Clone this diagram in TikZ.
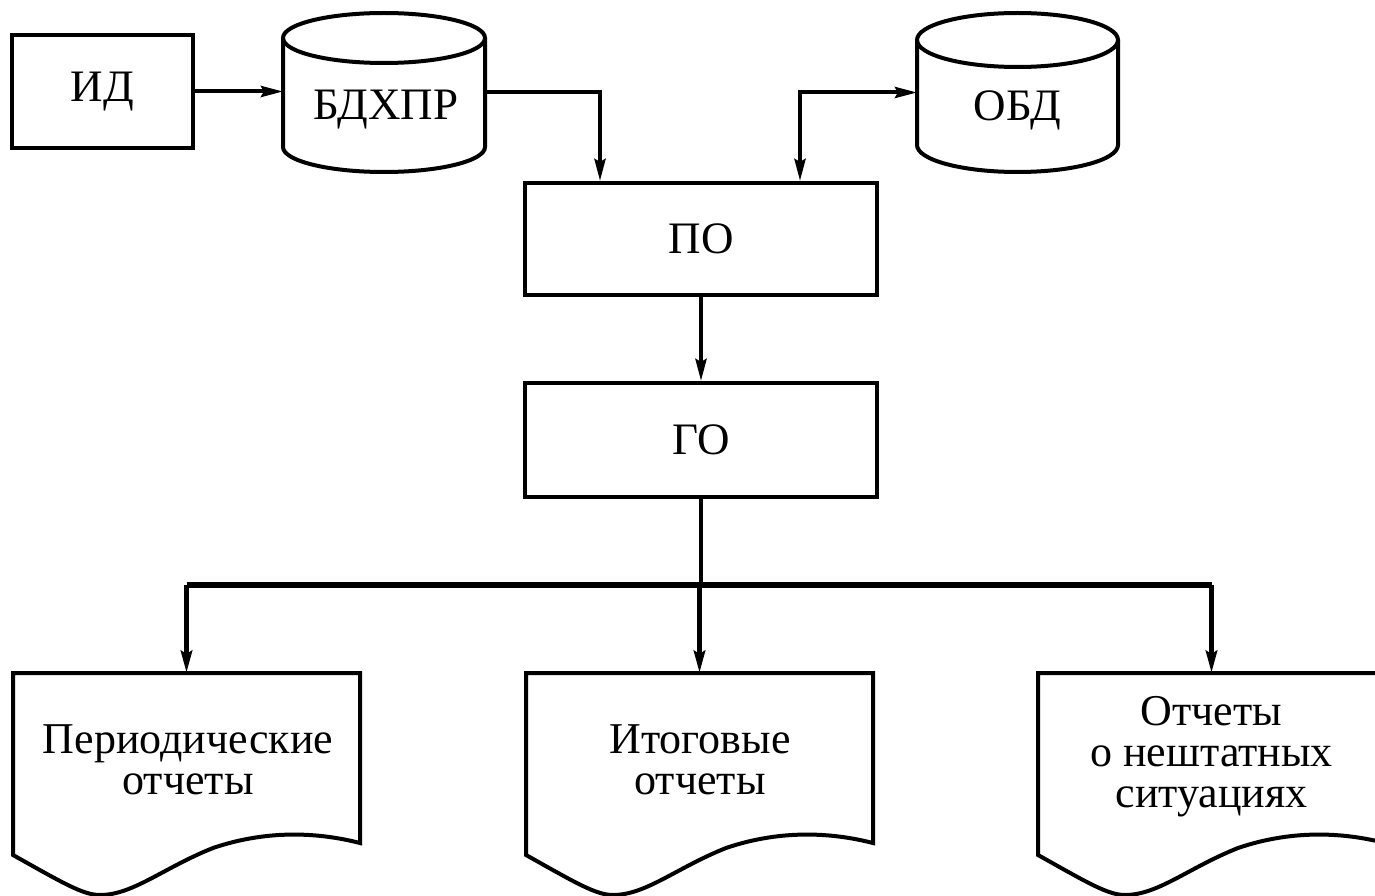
\documentclass[tikz,border=0pt]{standalone}
\usepackage{fontspec}
\setmainfont{Liberation Serif}
\usetikzlibrary{arrows.meta}
\begin{document}
\begin{tikzpicture}[x=1pt,y=-1pt,
  lbl/.style={font=\fontsize{44}{41}\selectfont, align=center, inner sep=0pt},
  box/.style={draw, line width=4pt, inner sep=0pt, font=\fontsize{45}{41}\selectfont},
  ghost/.style={inner sep=0pt, outer sep=0pt},
  shp/.style={line width=4pt, line join=miter},
  tip/.style={-{Stealth[length=22pt,width=11pt,inset=3pt]}},
  arr/.style={line width=4pt, tip},
  arrtwo/.style={line width=4pt, {Stealth[length=22pt,width=11pt,inset=3pt]}-{Stealth[length=22pt,width=11pt,inset=3pt]}},
  busline/.style={line width=6pt}
]
\useasboundingbox (0,0) rectangle (1375,896);

% input data box
\node[box, minimum width=181pt, minimum height=113pt] (id) at (102.5,91.5) {ИД};

% cylinder BDXPR
\node[ghost, minimum width=202pt, minimum height=159pt] (bd) at (384,92.5) {};
\draw[shp] (384,38) ellipse [x radius=101pt, y radius=25pt];
\draw[shp] (283,38) -- (283,147) arc[start angle=180, end angle=360, x radius=101pt, y radius=25pt] -- (485,38);
\node[lbl, font=\fontsize{45}{41}\selectfont] (bdt) at (386,110) {БДХПР};

% cylinder OBD
\node[ghost, minimum width=201pt, minimum height=159pt] (obd) at (1017.5,92.5) {};
\draw[shp] (1017.5,40) ellipse [x radius=100.5pt, y radius=27pt];
\draw[shp] (917,40) -- (917,145) arc[start angle=180, end angle=360, x radius=100.5pt, y radius=27pt] -- (1118,40);
\node[lbl, font=\fontsize{45}{41}\selectfont] (obdt) at (1017.5,110) {ОБД};

% processing boxes
\node[box, minimum width=352pt, minimum height=112pt] (po) at (701,239) {ПО};
\node[box, minimum width=352pt, minimum height=114pt] (go) at (701,440) {ГО};

% documents
\node[ghost, minimum width=347pt, minimum height=10pt, anchor=north] (d1) at (186.5,673) {};
\node[ghost, minimum width=347pt, minimum height=10pt, anchor=north] (d2) at (699.5,673) {};
\node[ghost, minimum width=347pt, minimum height=10pt, anchor=north] (d3) at (1211.5,673) {};
\foreach \d in {d1,d2,d3}{
  \draw[shp, shift={(\d.north west)}] (0,0) -- (347,0) -- (347,170)
    .. controls (300,158) and (250,158) .. (200,175)
    .. controls (150,195) and (120,222) .. (87,222)
    .. controls (70,222) and (50,210) .. (0,182) -- cycle;
}
\node[lbl] (d1t) at (188,760) {Периодические\\отчеты};
\node[lbl] (d2t) at (700,760) {Итоговые\\отчеты};
\node[lbl] (d3t) at (1211.5,757) {Отчеты\\о нештатных\\ситуациях};

% connectors
\draw[arr] (id.east) -- (id.east -| bd.west);
\draw[arr] (bd.east) -| ([xshift=-101pt]po.north);
\draw[arrtwo] (obd.west) -| ([xshift=99pt]po.north);
\draw[arr] (po.south) -- (go.north);
\coordinate (j) at (701,585);
\draw[line width=4pt] (go.south) -- (j);
\draw[busline] (d1.north |- j) -- (d3.north |- j);
\draw[line width=5pt, tip] (d1.north |- j) -- (d1.north);
\draw[line width=5pt, tip] (d2.north |- j) -- (d2.north);
\draw[line width=5pt, tip] (d3.north |- j) -- (d3.north);
\end{tikzpicture}
\end{document}
